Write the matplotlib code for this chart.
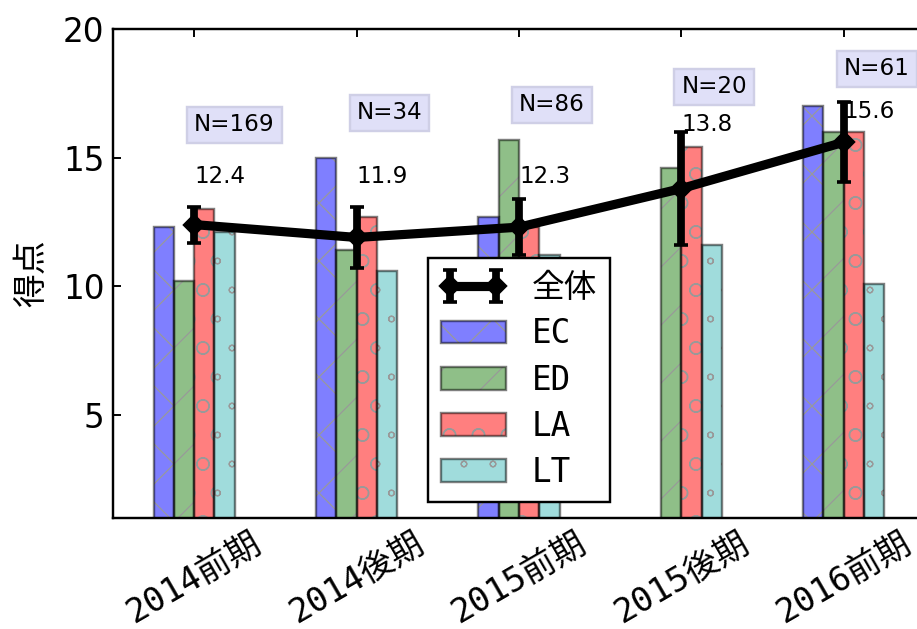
import numpy as np
import matplotlib
matplotlib.use("Agg")
import matplotlib.pyplot as plt
import matplotlib.hatch as mhatch

# ---------------- Daten ----------------
terms = ["2014前期", "2014後期", "2015前期", "2015後期", "2016前期"]
groups = ["EC", "ED", "LA", "LT"]

ec = [12.3, 15.0, 12.7, 0.0, 17.0]
ed = [10.2, 11.4, 15.7, 14.6, 16.0]
la = [13.0, 12.7, 12.3, 15.4, 16.0]
lt = [12.1, 10.6, 11.2, 11.6, 10.1]

overall = [12.4, 11.9, 12.3, 13.8, 15.6]
overall_err = [0.7, 1.2, 1.1, 2.2, 1.55]
n_counts = [169, 34, 86, 20, 61]

# ---------------- Stil ----------------
plt.rcParams['font.family'] = ['DejaVu Sans', 'Noto Sans CJK JP']
plt.rcParams['hatch.linewidth'] = 0.5
# kleinere Kreise in den Schraffuren
mhatch.SmallCircles.size = 0.1
mhatch.LargeCircles.size = 0.22
mono = ['DejaVu Sans Mono', 'Noto Sans CJK JP']

DPI = 174
fig = plt.figure(figsize=(917 / DPI, 629 / DPI), dpi=DPI)
ax = fig.add_axes([0.1232, 0.1765, 0.8855, 0.7774])

x = np.arange(len(terms))
width = 0.125
colors = ['#7f7fff', '#8fbf88', '#ff7f7f', '#a0dcdc']
hatches = ['x', '/', 'O', 'o']

bar_handles = []
for k, (name, vals) in enumerate(zip(groups, [ec, ed, la, lt])):
    pos = x - 0.25 + k * width
    # Füllung mit heller Schraffur, Umriss separat darüber
    fill = ax.bar(pos, vals, width, align='edge', color=colors[k],
                  edgecolor='#999999', linewidth=0, hatch=hatches[k], zorder=2)
    edge = ax.bar(pos, vals, width, align='edge', facecolor='none',
                  edgecolor=(0, 0, 0, 0.5), linewidth=1.0, zorder=2.1)
    bar_handles.append((fill, edge))

eb = ax.errorbar(x, overall, yerr=overall_err, color='k', lw=3.8,
                 marker='D', ms=6, elinewidth=3.2, capsize=3, capthick=1.5,
                 label='全体', zorder=5)

# Mittelwerte und Stichprobengrößen beschriften
val_y = [14.25, 14.25, 14.25, 16.3, 16.8]
n_y = [16.27, 16.74, 17.05, 17.75, 18.45]
for i in range(len(terms)):
    ax.text(x[i], val_y[i], f"{overall[i]:.1f}", fontsize=9.5,
            ha='left', va='center', zorder=6)
    ax.text(x[i], n_y[i], f"N={n_counts[i]}", fontsize=9.5,
            ha='left', va='center', zorder=6,
            bbox=dict(boxstyle='square,pad=0.3', facecolor='#e0e0f8',
                      edgecolor='#cfcfe6', linewidth=1))

ax.set_xlim(-0.5, 4.5)
ax.set_ylim(1, 20)
ax.set_yticks([5, 10, 15, 20])
ax.set_xticks(x)
ax.set_xticklabels(terms, rotation=30, ha='center', family=mono, fontsize=14)
ax.tick_params(axis='y', labelsize=13.5)
ax.tick_params(direction='in', top=True, right=True, length=3.5, width=0.8)
for sp in ax.spines.values():
    sp.set_linewidth(1.0)

ax.set_ylabel('得点', fontsize=14)
ax.yaxis.set_label_coords(-0.08, 0.5)

leg = ax.legend([eb] + bar_handles, ['全体'] + groups, loc='lower center',
                numpoints=2, fancybox=False, framealpha=1, edgecolor='k',
                prop={'family': mono, 'size': 13.5},
                handlelength=2.0, labelspacing=0.4, borderaxespad=0.5)
leg.get_frame().set_linewidth(1.0)
leg.set_zorder(10)

fig.savefig('out.png', dpi=DPI)
